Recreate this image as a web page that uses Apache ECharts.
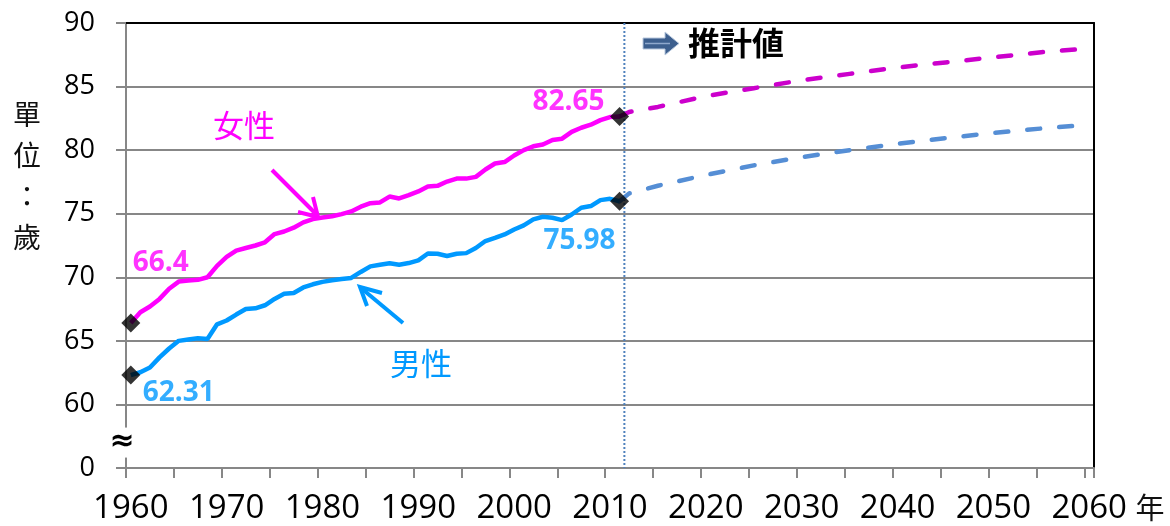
<!DOCTYPE html>
<html><head><meta charset="utf-8">
<script src="https://cdn.jsdelivr.net/npm/echarts@6/dist/echarts.min.js"></script>
<style>html,body{margin:0;padding:0;background:#fff}#c{width:1170px;height:526px}</style>
</head><body><div id="c"></div>
<script>
// ---- data ----
const firstYear = 1960, lastYear = 2060;
const years = [];
for (let y = firstYear; y <= lastYear; y++) years.push(String(y));

// actual values 1960-2011
const femaleActual = [66.40,67.25,67.7,68.3,69.1,69.66,69.74,69.8,70.0,70.9,
  71.6,72.1,72.3,72.5,72.75,73.4,73.6,73.9,74.32,74.58,
  74.7,74.8,74.97,75.18,75.55,75.83,75.89,76.35,76.2,76.46,
  76.75,77.14,77.19,77.53,77.76,77.76,77.9,78.48,78.95,79.06,
  79.58,80.0,80.3,80.45,80.8,80.9,81.44,81.76,82.0,82.36,
  82.6,82.65];
const maleActual = [62.31,62.53,62.9,63.7,64.4,65.0,65.1,65.2,65.15,66.3,
  66.6,67.07,67.5,67.56,67.8,68.3,68.7,68.77,69.2,69.45,
  69.64,69.77,69.87,69.95,70.42,70.86,70.99,71.1,70.99,71.12,
  71.33,71.87,71.85,71.67,71.85,71.9,72.3,72.85,73.1,73.37,
  73.76,74.08,74.55,74.76,74.68,74.5,74.94,75.47,75.6,76.07,
  76.17,75.98];

// projection (推計値)
const projYears = [2011,2012,2015,2020,2025,2030,2035,2040,2045,2050,2055,2060];
const femaleProj = [82.65,83.0,83.4,84.25,84.87,85.5,86.0,86.5,86.9,87.3,87.7,88.0];
const maleProj   = [75.98,76.6,77.2,78.05,78.8,79.45,80.0,80.5,80.95,81.35,81.7,82.0];

const yTicks = [55,60,65,70,75,80,85,90];
const yTickText = {55:'0'};

// ---- styles ----
const FONT = '"Open Sans", Lato, sans-serif';
const FEMALE = '#FF00FF', MALE = '#0099FF', FEMALE_P = '#CC00CC', MALE_P = '#558ED5';
const GRID = '#878787';

function fullSeries(vals, startYear){
  const out = years.map(() => null);
  vals.forEach((v,i) => { out[years.indexOf(String(startYear+i))] = v; });
  return out;
}
function projSeries(ys, vals){
  const out = years.map(() => null);
  ys.forEach((y,i) => { out[years.indexOf(String(y))] = vals[i]; });
  return out;
}
function lbl(color, dx, dy, digits){
  return {show:true, position:'inside', offset:[dx,dy],
    formatter: p => '{t|' + (digits == null ? String(p.value[1]) : p.value[1].toFixed(digits)) + '}',
    rich:{t:{color, fontSize:28, fontWeight:'bold', fontFamily:FONT}}};
}
const nA = femaleActual.length;
const lastActualYear = String(firstYear + nA - 1);
const markerData = [
  {value:[years[0], femaleActual[0]], label: lbl(FEMALE, 30, -60)},
  {value:[years[0], maleActual[0]], label: lbl(MALE, 48, 18)},
  {value:[lastActualYear, femaleActual[nA-1]], label: lbl(FEMALE, -51, -14)},
  {value:[lastActualYear, maleActual[nA-1]], label: lbl(MALE, -40, 40)}
];
const endData = [
  {value:[String(projYears[projYears.length-1]), femaleProj[femaleProj.length-1]], label: lbl(FEMALE_P, 51, 0, 1)},
  {value:[String(projYears[projYears.length-1]), maleProj[maleProj.length-1]], label: lbl(MALE_P, 51, 1, 1)}
];

const chart = echarts.init(document.getElementById('c'), null, {renderer:'canvas'});
const option = {
  animation:false,
  backgroundColor:'#fff',
  grid:{left:126, right:76, top:23, bottom:58},
  xAxis:[{
    type:'category', data:years, boundaryGap:true,
    axisLine:{show:true, lineStyle:{color:GRID, width:2}},
    axisTick:{show:true, interval:4, length:10, lineStyle:{color:GRID, width:2}},
    axisLabel:{interval:9, margin:24, formatter: v => '{t|' + v + '}',
      rich:{t:{fontSize:33, color:'#000', fontFamily:FONT}}},
    splitLine:{show:false}
  },{
    type:'category', data:years, position:'top', boundaryGap:true,
    axisLine:{show:true, lineStyle:{color:'#000', width:2}},
    axisTick:{show:false}, axisLabel:{show:false}, splitLine:{show:false}
  }],
  yAxis:[{
    type:'value', min:yTicks[0], max:yTicks[yTicks.length-1], interval:5,
    axisLine:{show:true, lineStyle:{color:GRID, width:2}},
    axisTick:{show:true, length:10, lineStyle:{color:GRID, width:2}},
    axisLabel:{margin:31, fontSize:27, color:'#000', fontFamily:FONT,
      formatter: v => (yTickText[v] !== undefined ? yTickText[v] : String(v))},
    splitLine:{show:true, showMinLine:false, showMaxLine:false, lineStyle:{color:GRID, width:2}}
  },{
    type:'value', position:'right', min:yTicks[0], max:yTicks[yTicks.length-1], interval:5,
    axisLine:{show:true, lineStyle:{color:'#000', width:2}},
    axisTick:{show:false}, axisLabel:{show:false}, splitLine:{show:false}
  }],
  series:[
    {name:'女性', type:'line', data:fullSeries(femaleActual, firstYear), showSymbol:false, symbol:'none',
      lineStyle:{color:FEMALE, width:4.5}, z:3},
    {name:'男性', type:'line', data:fullSeries(maleActual, firstYear), showSymbol:false, symbol:'none',
      lineStyle:{color:MALE, width:4.5}, z:3},
    {name:'女性推計', type:'line', data:projSeries(projYears, femaleProj), connectNulls:true, showSymbol:false, symbol:'none',
      lineStyle:{color:FEMALE_P, width:4.5, type:[13,19], cap:'round'}, z:2},
    {name:'男性推計', type:'line', data:projSeries(projYears, maleProj), connectNulls:true, showSymbol:false, symbol:'none',
      lineStyle:{color:MALE_P, width:4.5, type:[13,19], cap:'round'}, z:2},
    {type:'scatter', data:markerData, symbol:'diamond', symbolSize:19, itemStyle:{color:'#000'}, z:5},
    {type:'scatter', data:endData, symbol:'none', symbolSize:0, z:5}
  ]
};
chart.setOption(option);

// ---- decorations ----
const xA = chart.convertToPixel({xAxisIndex:0}, lastActualYear);
const xB = chart.convertToPixel({xAxisIndex:0}, String(Number(lastActualYear)+1));
const xDiv = (xA + xB) / 2;
const yTop = chart.convertToPixel({yAxisIndex:0}, 90);
const yBot = chart.convertToPixel({yAxisIndex:0}, 55);
const yBreak = chart.convertToPixel({yAxisIndex:0}, 57);
const xAxisX = chart.convertToPixel({xAxisIndex:0}, years[0]) - (xB - xA)/2;

chart.setOption({graphic:[
  {type:'line', shape:{x1:xDiv, y1:yTop, x2:xDiv, y2:yBot}, style:{stroke:'#4F81BD', lineWidth:2, lineDash:[2,2]}, z:1},
  {type:'text', x:xAxisX - 4, y:yBreak, style:{text:'≈', font:'bold 30px "DejaVu Sans"', fill:'#000',
    align:'center', verticalAlign:'middle', backgroundColor:'#fff'}, z:10},
  // y axis unit
  {type:'text', x:27, y:176, style:{text:'單\n位\n：\n歲', font:'28px "Noto Sans CJK TC"', lineHeight:41,
    fill:'#111', align:'center', verticalAlign:'middle'}},
  // x axis unit
  {type:'text', x:1150, y:508, style:{text:'年', font:'29px "Noto Sans CJK JP"', fill:'#111', align:'center', verticalAlign:'middle'}},
  // 推計値 with arrow
  {type:'polygon', shape:{points:[[643,38],[665,38],[665,32],[679,43.5],[665,55],[665,49],[643,49]]},
    style:{fill:'#3D5F8E', stroke:'#B8C8DD', lineWidth:1}},
  {type:'line', shape:{x1:645, y1:43.5, x2:670, y2:43.5}, style:{stroke:'#8FA8CC', lineWidth:1.5}},
  {type:'text', x:736, y:43, style:{text:'推計値', font:'bold 32px "Noto Sans CJK JP"', fill:'#000', align:'center', verticalAlign:'middle'}},
  // 女性 annotation
  {type:'text', x:244, y:125, style:{text:'女性', font:'31px "Noto Sans CJK JP"', fill:FEMALE, align:'center', verticalAlign:'middle'}},
  {type:'line', shape:{x1:272, y1:170, x2:318, y2:216}, style:{stroke:FEMALE, lineWidth:4}},
  {type:'polyline', shape:{points:[[298,212],[318,217],[313,197]]}, style:{stroke:FEMALE, lineWidth:4, fill:null}},
  // 男性 annotation
  {type:'text', x:421, y:363, style:{text:'男性', font:'31px "Noto Sans CJK JP"', fill:MALE, align:'center', verticalAlign:'middle'}},
  {type:'line', shape:{x1:403, y1:323, x2:361, y2:288}, style:{stroke:MALE, lineWidth:4}},
  {type:'polyline', shape:{points:[[382,293],[360,287],[367,306]]}, style:{stroke:MALE, lineWidth:4, fill:null}}
]});
</script>
</body></html>
